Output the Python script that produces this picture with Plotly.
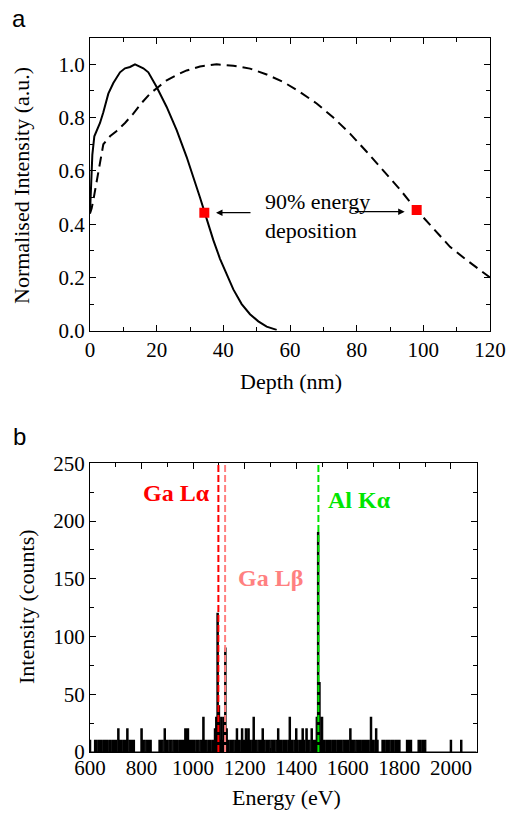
import plotly.graph_objects as go

# ---------------- panel a: depth profiles ----------------
depth_solid = [0, 0.3, 0.7, 1.3, 2, 3, 4, 5.5, 7, 9, 10.5, 12, 13.5, 15, 16, 17.5,
               20, 23, 26, 29, 31, 33, 35, 37, 39, 41, 43, 45.5, 48, 50.5, 53, 56]
norm_solid = [0.44, 0.56, 0.66, 0.73, 0.75, 0.78, 0.82, 0.89, 0.93, 0.97, 0.985, 0.99,
              1.0, 0.99, 0.985, 0.97, 0.915, 0.84, 0.753, 0.652, 0.58, 0.50, 0.42,
              0.34, 0.27, 0.21, 0.155, 0.10, 0.062, 0.035, 0.015, 0.003]

depth_dash = [0, 0.5, 1, 1.8, 2.5, 3.3, 4, 6, 8, 10.5, 13, 15.5, 18, 20.5, 23, 26, 29,
              33, 38, 43, 48, 53, 58, 63, 68, 73, 78, 83, 88, 93, 98, 103, 108, 113,
              117, 120]
norm_dash = [0.44, 0.46, 0.49, 0.55, 0.60, 0.66, 0.70, 0.73, 0.75, 0.78, 0.815, 0.855,
             0.89, 0.915, 0.94, 0.96, 0.977, 0.992, 1.0, 0.995, 0.984, 0.962, 0.934,
             0.896, 0.853, 0.80, 0.74, 0.672, 0.603, 0.53, 0.453, 0.385, 0.315, 0.265,
             0.228, 0.20]

# 90 % energy deposition depths
mark_depth = [34.3, 98.0]
mark_norm = [0.443, 0.453]

# ---------------- panel b: EDX spectrum (5 eV channels) ----------------
energy_start = 600
energy_step = 5
counts = [
    # 600-695
    10, 0, 0, 0, 10, 10, 0, 10, 10, 10, 0, 10, 10, 10, 0, 10, 10, 0, 10, 10,
    # 700-795
    10, 0, 20, 10, 10, 0, 10, 10, 10, 20, 0, 10, 10, 10, 10, 0, 0, 0, 0, 0,
    # 800-895
    20, 10, 10, 0, 10, 10, 10, 10, 0, 0, 0, 0, 0, 0, 10, 10, 10, 0, 20, 10,
    # 900-995
    10, 0, 10, 10, 0, 10, 10, 10, 10, 0, 10, 10, 10, 10, 20, 20, 20, 10, 10, 10,
    # 1000-1095
    10, 10, 0, 10, 10, 0, 10, 10, 30, 10, 10, 0, 10, 10, 0, 10, 10, 20, 30, 120,
    # 1100-1195
    40, 10, 30, 10, 30, 90, 20, 10, 0, 10, 10, 10, 0, 10, 20, 10, 10, 0, 20, 10,
    # 1200-1295
    10, 20, 10, 20, 10, 0, 10, 30, 10, 10, 0, 10, 10, 10, 20, 10, 0, 10, 10, 10,
    # 1300-1395
    0, 10, 10, 10, 0, 10, 20, 10, 10, 0, 10, 10, 10, 0, 10, 30, 10, 10, 0, 10,
    # 1400-1495
    20, 10, 0, 10, 10, 20, 10, 0, 20, 10, 10, 0, 20, 10, 10, 10, 30, 190, 60, 10,
    # 1500-1595
    30, 10, 10, 0, 10, 10, 10, 0, 10, 10, 10, 0, 10, 10, 10, 10, 0, 10, 10, 10,
    # 1600-1695
    10, 0, 20, 10, 10, 10, 0, 10, 10, 10, 10, 0, 10, 10, 10, 10, 10, 0, 30, 10,
    # 1700-1795
    10, 0, 20, 10, 0, 0, 0, 10, 10, 0, 10, 10, 10, 0, 10, 10, 0, 10, 10, 10,
    # 1800-1895
    10, 0, 0, 0, 0, 0, 10, 10, 10, 10, 0, 0, 0, 0, 0, 10, 10, 0, 10, 10,
    # 1900-1995
    10, 0, 0, 0, 0, 0, 0, 0, 0, 0, 0, 0, 0, 0, 0, 0, 0, 0, 0, 0,
    # 2000-2100
    10, 0, 0, 0, 0, 0, 0, 0, 10, 0, 0, 0, 0, 0, 0, 0, 0, 0, 0, 0, 0,
]
energy = [energy_start + energy_step * i for i in range(len(counts))]

# characteristic X-ray lines (eV)
line_names = ["Ga Lα", "Ga Lβ", "Al Kα"]
line_energy = [1098, 1124, 1486]
line_colors = ["#ff0000", "#ff8080", "#00e600"]

SERIF = "Liberation Serif"
SANS = "Liberation Sans"

fig = go.Figure()

fig.add_trace(go.Scatter(x=depth_solid, y=norm_solid, mode="lines",
                         line=dict(color="black", width=2), xaxis="x", yaxis="y",
                         showlegend=False))
fig.add_trace(go.Scatter(x=depth_dash, y=norm_dash, mode="lines",
                         line=dict(color="black", width=2, dash="10px,6px"),
                         xaxis="x", yaxis="y", showlegend=False))
fig.add_trace(go.Scatter(x=mark_depth, y=mark_norm, mode="markers",
                         marker=dict(symbol="square", size=10, color="#ff0000",
                                     line=dict(width=0)),
                         xaxis="x", yaxis="y", showlegend=False))

fig.add_trace(go.Scatter(x=energy, y=counts, mode="lines",
                         line=dict(color="black", width=1.2, shape="hvh"),
                         fill="tozeroy", fillcolor="black",
                         xaxis="x2", yaxis="y2", showlegend=False))

axis_common = dict(
    showline=True, linecolor="black", linewidth=1.3, mirror="ticks",
    ticks="inside", ticklen=6, tickwidth=1.3, tickcolor="black",
    showgrid=False, zeroline=False, automargin=False,
    tickfont=dict(family=SERIF, size=21, color="black"),
    minor=dict(ticks="inside", ticklen=4, tickwidth=1.3, tickcolor="black",
               showgrid=False),
)

W, H = 510, 814

def fx(px):
    return px / W

def fy(px):
    return 1 - px / H

layout = dict(
    width=W, height=H,
    margin=dict(l=0, r=0, t=0, b=0),
    paper_bgcolor="white", plot_bgcolor="white",
    xaxis=dict(axis_common, domain=[fx(90), fx(490)], range=[0, 120], dtick=20,
               anchor="y", minor=dict(axis_common["minor"], dtick=10)),
    yaxis=dict(axis_common, domain=[fy(330.7), fy(37.7)], range=[0, 1.1], dtick=0.2,
               tickformat=".1f", anchor="x", minor=dict(axis_common["minor"], dtick=0.1)),
    xaxis2=dict(axis_common, domain=[fx(90), fx(476.7)], range=[600, 2100],
                dtick=200, anchor="y2", ticklabelstandoff=-3,
                minor=dict(axis_common["minor"], dtick=100)),
    yaxis2=dict(axis_common, domain=[fy(752), fy(463.3)], range=[0, 250], dtick=50,
                anchor="x2", minor=dict(axis_common["minor"], dtick=25)),
)
fig.update_layout(**layout)

shapes = []
for e, c in zip(line_energy, line_colors):
    shapes.append(dict(type="line", xref="x2", yref="y2", x0=e, x1=e, y0=0, y1=250,
                       line=dict(color=c, width=2, dash="7px,3px"), layer="above"))
fig.update_layout(shapes=shapes)


def label(text, px, py, size, family=SERIF, color="black", angle=0):
    return dict(text=text, xref="paper", yref="paper", x=fx(px), y=fy(py),
                xanchor="center", yanchor="middle", textangle=angle,
                showarrow=False, font=dict(family=family, size=size, color=color))


ann = []
# panel letters
ann.append(label("a", 19, 18, 24, family=SANS))
ann.append(label("b", 19, 436, 24, family=SANS))
# axis titles
ann.append(label("Normalised Intensity (a.u.)", 22, 186, 22, angle=-90))
ann.append(label("Depth (nm)", 291, 381, 22))
ann.append(label("Intensity (counts)", 26, 607, 22, angle=-90))
ann.append(label("Energy (eV)", 286, 797, 22))
# 90 % energy deposition label and arrows
ann.append(dict(text="90% energy<br>deposition", xref="x", yref="y",
                x=52.0, y=0.43, xanchor="left", yanchor="middle", align="left",
                showarrow=False, font=dict(family=SERIF, size=22, color="black")))
ann.append(dict(text="", xref="x", yref="y", axref="x", ayref="y",
                x=37.8, y=0.443, ax=48.6, ay=0.443, showarrow=True,
                arrowhead=2, arrowsize=1, arrowwidth=1.3, arrowcolor="black"))
ann.append(dict(text="", xref="x", yref="y", axref="x", ayref="y",
                x=94.4, y=0.447, ax=79, ay=0.447, showarrow=True,
                arrowhead=2, arrowsize=1, arrowwidth=1.3, arrowcolor="black"))
# line labels
label_pos = [(176, 493), (270, 578), (359, 500)]
for name, c, (px, py) in zip(line_names, line_colors, label_pos):
    ann.append(label("<b>%s</b>" % name, px, py, 24, color=c))
fig.update_layout(annotations=ann)

fig.write_html("out.html")
